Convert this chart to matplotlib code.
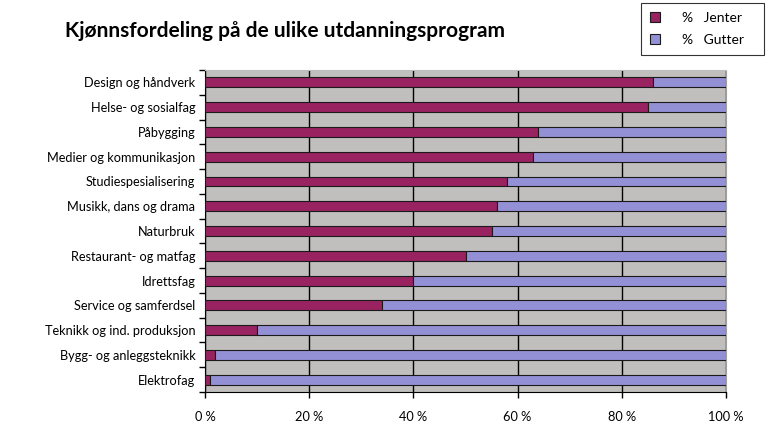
import matplotlib
matplotlib.use('Agg')
import matplotlib.pyplot as plt
import numpy as np
from matplotlib.ticker import FixedLocator

plt.rcParams['font.family'] = ['Lato', 'DejaVu Sans']

categories = ['Design og håndverk', 'Helse- og sosialfag', 'Påbygging',
              'Medier og kommunikasjon', 'Studiespesialisering',
              'Musikk, dans og drama', 'Naturbruk', 'Restaurant- og matfag',
              'Idrettsfag', 'Service og samferdsel',
              'Teknikk og ind. produksjon', 'Bygg- og anleggsteknikk',
              'Elektrofag']
jenter = [86, 85, 64, 63, 58, 56, 55, 50, 40, 34, 10, 2, 1]
gutter = [100 - v for v in jenter]
xticks = [0, 20, 40, 60, 80, 100]
xtick_labels = ['0 %', '20 %', '40 %', '60 %', '80 %', '100 %']

fig = plt.figure(figsize=(7.7, 4.36), dpi=100)
ax = fig.add_axes([0.2662, 0.1009, 0.6767, 0.7385])
ax.set_facecolor('#C0BFBE')

y = np.arange(len(categories))[::-1]
ax.barh(y, jenter, height=0.4, color='#982360', edgecolor='#1a1a1a',
        linewidth=0.8, label='%   Jenter', zorder=3)
ax.barh(y, gutter, left=jenter, height=0.4, color='#9490D6',
        edgecolor='#1a1a1a', linewidth=0.8, label='%   Gutter', zorder=3)

ax.set_xlim(0, 100)
ax.set_ylim(-0.5, len(categories) - 0.5)
ax.set_xticks(xticks)
ax.set_xticklabels(xtick_labels, fontsize=9.2)
ax.set_yticks(y)
ax.set_yticklabels(categories, fontsize=9.2)
ax.tick_params(axis='y', which='major', length=0, pad=7)
ax.yaxis.set_minor_locator(FixedLocator(np.arange(-0.5, len(categories), 1)))
ax.tick_params(axis='y', which='minor', length=4, width=1, color='black')
ax.tick_params(axis='x', length=4, width=1, color='black', pad=10)
ax.grid(axis='x', color='black', linewidth=1, zorder=1)
ax.set_axisbelow(True)

ax.spines['left'].set_color('black')
ax.spines['bottom'].set_color('black')
ax.spines['top'].set_color('#C0BFBE')
ax.spines['right'].set_color('#A0A0A0')

fig.text(0.084, 0.928, 'Kjønnsfordeling på de ulike utdanningsprogram',
         fontsize=15, fontweight='bold', va='center', ha='left')

handles, labels = ax.get_legend_handles_labels()
leg = fig.legend(handles, labels, loc='upper left',
                 bbox_to_anchor=(641 / 770, 1 - 56 / 436, 123 / 770, 53 / 436),
                 mode='expand', fontsize=10,
                 frameon=True, fancybox=False, edgecolor='black',
                 handlelength=0.7, handleheight=0.7, borderpad=0.65,
                 labelspacing=0.7, handletextpad=1.6, borderaxespad=0)
leg.get_frame().set_linewidth(0.8)

fig.savefig('out.png', dpi=100)
